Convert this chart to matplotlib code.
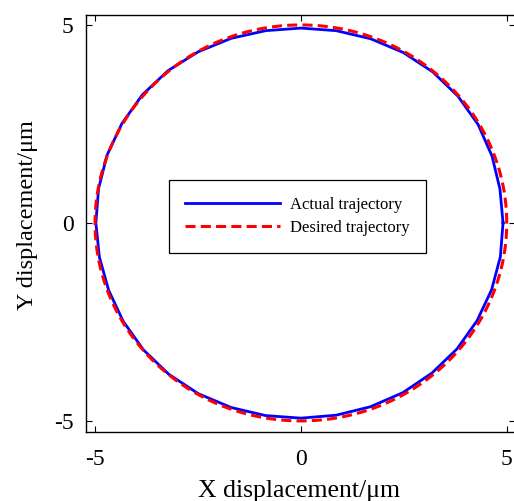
import numpy as np
import matplotlib.pyplot as plt

plt.rcParams['font.family'] = ['Liberation Serif', 'DejaVu Serif']
plt.rcParams['axes.unicode_minus'] = False

# desired circle, radius 5 um
desired_radius = 5.0
# actual trajectory: radius every 10 degrees
actual_angle_deg = list(range(0, 360, 10))
actual_radius = [4.91, 4.91, 4.94, 4.97, 4.98, 4.98, 4.97, 4.95, 4.93,
                 4.92, 4.93, 4.96, 4.99, 5.02, 5.03, 5.02, 5.01, 4.99,
                 4.98, 4.97, 4.97, 4.98, 4.99, 4.99, 4.98, 4.96, 4.94,
                 4.93, 4.93, 4.94, 4.95, 4.95, 4.95, 4.94, 4.93, 4.92]
ticks = [-5, 0, 5]

th = np.deg2rad(actual_angle_deg + [360])
r = np.array(actual_radius + [actual_radius[0]])
act_x = r * np.cos(th)
act_y = r * np.sin(th)

t = np.linspace(0, 2 * np.pi, 400)
des_x = desired_radius * np.cos(t)
des_y = desired_radius * np.sin(t)

fig = plt.figure(figsize=(5.14, 5.01), dpi=100)
ax = fig.add_axes([0.1673, 0.1377, 0.8346, 0.8323])

ax.plot(act_x, act_y, color='#0000ff', lw=2.0, label='Actual trajectory')
ax.plot(des_x, des_y, color='#ff0000', lw=2.2, dashes=(3.3, 1.7), label='Desired trajectory')

ax.set_xlim(-5.22, 5.2)
ax.set_ylim(-5.28, 5.25)
ax.set_xticks(ticks)
ax.set_yticks(ticks)
ax.tick_params(direction='in', length=4, width=0.8, top=True, right=True,
               labelsize=17)
ax.tick_params(axis='x', pad=12)
ax.tick_params(axis='y', pad=9)
for s in ax.spines.values():
    s.set_linewidth(1.0)

ax.set_xlabel('X displacement/μm', fontsize=18.5)
ax.set_ylabel('Y displacement/μm', fontsize=17.5)
ax.xaxis.set_label_coords(0.4977, -0.114)
ax.yaxis.set_label_coords(-0.112, 0.52)

leg = ax.legend(loc='center', bbox_to_anchor=(0.493, 0.517), fontsize=12,
                fancybox=False, edgecolor='black', framealpha=1,
                handlelength=5.7, handletextpad=0.6, borderpad=1.0,
                labelspacing=0.45)
leg.get_frame().set_linewidth(0.9)

fig.savefig('out.png', dpi=100)
